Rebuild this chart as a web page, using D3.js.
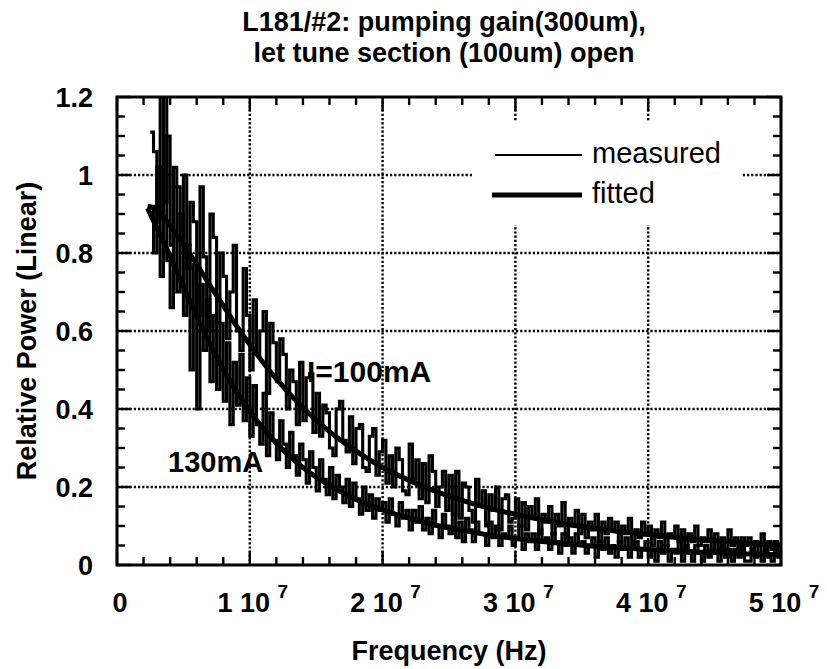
<!DOCTYPE html>
<html>
<head>
<meta charset="utf-8">
<script src="https://cdn.jsdelivr.net/npm/d3@7"></script>
<style>
  body { margin: 0; background: #fff; }
  text { font-family: "Liberation Sans", Arial, Helvetica, sans-serif; fill: #000; }
</style>
</head>
<body>
<div id="chart"></div>
<script>
// frequency grid of the measured traces (MHz)
var measStart = 2.5, measStep = 0.25;

var meas100 = [
  1.11, 1.06, 0.88, 1.20, 0.93, 1.10, 0.82, 1.02, 0.97, 0.84,
  1.00, 0.76, 0.93, 0.88, 0.64, 0.97, 0.79, 0.60, 0.90, 0.84,
  0.62, 0.80, 0.74, 0.58, 0.70, 0.82, 0.60, 0.55, 0.76, 0.64,
  0.50, 0.68, 0.54, 0.60, 0.65, 0.44, 0.62, 0.57, 0.47, 0.58,
  0.54, 0.40, 0.50, 0.47, 0.36, 0.52, 0.37, 0.48, 0.49, 0.34,
  0.44, 0.33, 0.41, 0.39, 0.30, 0.28, 0.40, 0.42, 0.32, 0.29,
  0.38, 0.26, 0.35, 0.36, 0.25, 0.24, 0.33, 0.35, 0.23, 0.29,
  0.32, 0.21, 0.28, 0.20, 0.30, 0.27, 0.19, 0.18, 0.31, 0.22,
  0.27, 0.17, 0.26, 0.16, 0.28, 0.24, 0.15, 0.20, 0.24, 0.14,
  0.23, 0.13, 0.24, 0.12, 0.21, 0.20, 0.14, 0.11, 0.22, 0.15,
  0.19, 0.10, 0.18, 0.14, 0.20, 0.09, 0.17, 0.18, 0.11, 0.12,
  0.17, 0.10, 0.16, 0.09, 0.15, 0.12, 0.17, 0.08, 0.13, 0.11,
  0.15, 0.08, 0.13, 0.10, 0.16, 0.07, 0.12, 0.10, 0.14, 0.08,
  0.13, 0.07, 0.11, 0.09, 0.13, 0.06, 0.11, 0.08, 0.12, 0.09,
  0.11, 0.06, 0.10, 0.08, 0.12, 0.05, 0.09, 0.07, 0.11, 0.08,
  0.10, 0.05, 0.09, 0.07, 0.11, 0.05, 0.08, 0.07, 0.10, 0.06,
  0.09, 0.04, 0.08, 0.06, 0.10, 0.05, 0.07, 0.06, 0.09, 0.04,
  0.08, 0.04, 0.07, 0.04, 0.09, 0.05, 0.07, 0.03, 0.07, 0.05,
  0.07, 0.03, 0.06, 0.05, 0.08, 0.03, 0.06, 0.04, 0.06, 0.03,
  0.05
];

var meas130 = [
  0.92, 0.80, 1.02, 0.74, 1.20, 0.78, 0.66, 0.97, 0.70, 0.90,
  0.64, 0.82, 0.50, 0.77, 0.40, 0.72, 0.55, 0.68, 0.47, 0.64,
  0.45, 0.62, 0.42, 0.57, 0.36, 0.52, 0.41, 0.54, 0.37, 0.48,
  0.33, 0.46, 0.36, 0.31, 0.44, 0.28, 0.39, 0.32, 0.27, 0.37,
  0.31, 0.25, 0.34, 0.28, 0.23, 0.31, 0.27, 0.21, 0.29, 0.25,
  0.19, 0.27, 0.22, 0.18, 0.25, 0.17, 0.23, 0.20, 0.16, 0.22,
  0.15, 0.21, 0.17, 0.13, 0.20, 0.14, 0.18, 0.12, 0.17, 0.14,
  0.16, 0.11, 0.17, 0.13, 0.10, 0.16, 0.12, 0.14, 0.09, 0.14,
  0.11, 0.15, 0.09, 0.12, 0.08, 0.14, 0.10, 0.07, 0.13, 0.10,
  0.08, 0.13, 0.07, 0.11, 0.06, 0.12, 0.09, 0.06, 0.11, 0.08,
  0.08, 0.05, 0.11, 0.07, 0.10, 0.05, 0.08, 0.07, 0.10, 0.05,
  0.07, 0.10, 0.04, 0.08, 0.06, 0.08, 0.04, 0.09, 0.06, 0.07,
  0.04, 0.08, 0.06, 0.03, 0.08, 0.05, 0.07, 0.03, 0.08, 0.05,
  0.06, 0.03, 0.05, 0.07, 0.02, 0.06, 0.04, 0.07, 0.03, 0.05,
  0.02, 0.06, 0.04, 0.07, 0.02, 0.04, 0.06, 0.02, 0.04, 0.06,
  0.02, 0.04, 0.01, 0.06, 0.03, 0.05, 0.01, 0.04, 0.03, 0.06,
  0.01, 0.05, 0.03, 0.01, 0.05, 0.03, 0.01, 0.05, 0.02, 0.04,
  0.03, 0.01, 0.05, 0.02, 0.04, 0.01, 0.04, 0.02, 0.05, 0.01,
  0.01, 0.04, 0.02, 0.05, 0.01, 0.04, 0.02, 0.01, 0.04, 0.02,
  0.02
];

// fitted curves (MHz, relative power)
var fitFreq = [2.3, 3, 4, 5, 6, 7, 8, 9, 10, 12, 14, 16, 18, 20, 22, 24, 26, 28, 30,
               32, 34, 36, 38, 40, 42, 44, 46, 48, 50];
var fit100 = [0.92, 0.911, 0.870, 0.822, 0.771, 0.717, 0.665, 0.613, 0.565, 0.477, 0.403,
              0.342, 0.292, 0.250, 0.217, 0.189, 0.166, 0.146, 0.130, 0.116, 0.104,
              0.094, 0.085, 0.078, 0.071, 0.065, 0.060, 0.055, 0.051];
var fit130 = [0.915, 0.864, 0.792, 0.714, 0.638, 0.567, 0.502, 0.444, 0.394, 0.312, 0.250,
              0.204, 0.168, 0.141, 0.120, 0.102, 0.089, 0.077, 0.068, 0.060, 0.054,
              0.048, 0.044, 0.040, 0.036, 0.033, 0.030, 0.028, 0.026];

var xTicks = [0, 1e7, 2e7, 3e7, 4e7, 5e7];
var yTicks = [0, 0.2, 0.4, 0.6, 0.8, 1, 1.2];
var yTickLabels = ["0", "0.2", "0.4", "0.6", "0.8", "1", "1.2"];

var W = 827, H = 669;
var margin = {left: 117, top: 97, right: 46, bottom: 104};
var w = W - margin.left - margin.right,
    h = H - margin.top - margin.bottom;

var svg = d3.select("#chart").append("svg")
  .attr("width", W).attr("height", H);

var x = d3.scaleLinear().domain([0, 5e7]).range([0, w]);
var y = d3.scaleLinear().domain([0, 1.2]).range([h, 0]);

var g = svg.append("g").attr("transform", "translate(" + margin.left + "," + margin.top + ")");

// dotted grid
g.selectAll(".vgrid").data(xTicks.slice(1, -1)).enter().append("line")
  .attr("x1", d => x(d)).attr("x2", d => x(d))
  .attr("y1", 0).attr("y2", h)
  .attr("stroke", "#000").attr("stroke-width", 2.4).attr("stroke-dasharray", "2.2,2");
g.selectAll(".hgrid").data(yTicks.slice(1, -1)).enter().append("line")
  .attr("y1", d => y(d)).attr("y2", d => y(d))
  .attr("x1", 0).attr("x2", w)
  .attr("stroke", "#000").attr("stroke-width", 2.4).attr("stroke-dasharray", "2.2,2");

// minor/major inward ticks on all four sides
var xMinor = d3.range(0, 5e7 + 1, 2e6);
var yMinor = d3.range(0, 1.2001, 0.05);
function tickLen(isMajor) { return isMajor ? 14 : 8; }

xMinor.forEach(function(v) {
  var major = Math.abs(v % 1e7) < 1;
  g.append("line").attr("x1", x(v)).attr("x2", x(v)).attr("y1", h).attr("y2", h - tickLen(major))
    .attr("stroke", "#000").attr("stroke-width", 2.4);
  g.append("line").attr("x1", x(v)).attr("x2", x(v)).attr("y1", 0).attr("y2", tickLen(major))
    .attr("stroke", "#000").attr("stroke-width", 2.4);
});
yMinor.forEach(function(v) {
  var major = Math.abs(v * 5 - Math.round(v * 5)) < 1e-6;
  g.append("line").attr("y1", y(v)).attr("y2", y(v)).attr("x1", 0).attr("x2", tickLen(major))
    .attr("stroke", "#000").attr("stroke-width", 2.4);
  g.append("line").attr("y1", y(v)).attr("y2", y(v)).attr("x1", w).attr("x2", w - tickLen(major))
    .attr("stroke", "#000").attr("stroke-width", 2.4);
});

// legend box (blanks the grid behind it)
var lg = g.append("g").attr("transform", "translate(" + (473 - margin.left) + "," + (122 - margin.top) + ")");
lg.append("rect").attr("width", 270).attr("height", 103).attr("fill", "#fff");

// data
g.append("clipPath").attr("id", "clip").append("rect").attr("width", w).attr("height", h);
var plot = g.append("g").attr("clip-path", "url(#clip)");

var measLine = d3.line()
  .x((d, i) => x((measStart + i * measStep) * 1e6))
  .y(d => y(d))
  .curve(d3.curveStepAfter);
var fitLine = d3.line()
  .x((d, i) => x(fitFreq[i] * 1e6))
  .y(d => y(d))
  .curve(d3.curveMonotoneX);

[meas100, meas130].forEach(function(s) {
  plot.append("path").attr("d", measLine(s))
    .attr("fill", "none").attr("stroke", "#000").attr("stroke-width", 3.1);
});
[fit100, fit130].forEach(function(s) {
  plot.append("path").attr("d", fitLine(s))
    .attr("fill", "none").attr("stroke", "#000").attr("stroke-width", 5);
});

// frame
g.append("rect").attr("width", w).attr("height", h)
  .attr("fill", "none").attr("stroke", "#000").attr("stroke-width", 3);

// legend content
lg.append("line").attr("x1", 22).attr("x2", 109).attr("y1", 33).attr("y2", 33)
  .attr("stroke", "#000").attr("stroke-width", 2);
lg.append("text").attr("x", 119).attr("y", 41).style("font-size", "29px").text("measured");
lg.append("line").attr("x1", 19).attr("x2", 109).attr("y1", 73).attr("y2", 73)
  .attr("stroke", "#000").attr("stroke-width", 5);
lg.append("text").attr("x", 119).attr("y", 81).style("font-size", "29px").text("fitted");

// annotations
g.append("text").attr("x", 307 - margin.left).attr("y", 382 - margin.top)
  .style("font-size", "30px").style("font-weight", "bold").text("I=100mA");
g.append("text").attr("x", 168 - margin.left).attr("y", 472 - margin.top)
  .style("font-size", "29px").style("font-weight", "bold").text("130mA");

// tick labels
g.selectAll(".ylab").data(yTicks).enter().append("text")
  .attr("x", -24).attr("y", d => y(d) + 10)
  .attr("text-anchor", "end")
  .style("font-size", "27px").style("font-weight", "bold")
  .text((d, i) => yTickLabels[i]);

var xl = g.selectAll(".xlab").data(xTicks).enter().append("text")
  .attr("x", d => x(d) + 3).attr("y", h + 47)
  .attr("text-anchor", "middle")
  .style("font-size", "27px").style("font-weight", "bold");
xl.each(function(d) {
  var t = d3.select(this);
  if (d === 0) { t.text("0"); return; }
  t.append("tspan").text((d / 1e7) + " 10 ");
  t.append("tspan").attr("dy", -14).style("font-size", "19px").text("7");
});

// axis titles
svg.append("text").attr("x", margin.left + w / 2).attr("y", 660)
  .attr("text-anchor", "middle")
  .style("font-size", "27px").style("font-weight", "bold")
  .text("Frequency (Hz)");
svg.append("text")
  .attr("transform", "translate(36," + (margin.top + h / 2) + ") rotate(-90)")
  .attr("text-anchor", "middle")
  .style("font-size", "27px").style("font-weight", "bold")
  .text("Relative Power (Linear)");

// title
var title = svg.append("text").attr("text-anchor", "middle")
  .style("font-size", "27px").style("font-weight", "bold");
title.append("tspan").attr("x", margin.left + w / 2 - 5).attr("y", 31).text("L181/#2: pumping gain(300um),");
title.append("tspan").attr("x", margin.left + w / 2 - 5).attr("y", 62).text("let tune section (100um) open");
</script>
</body>
</html>
